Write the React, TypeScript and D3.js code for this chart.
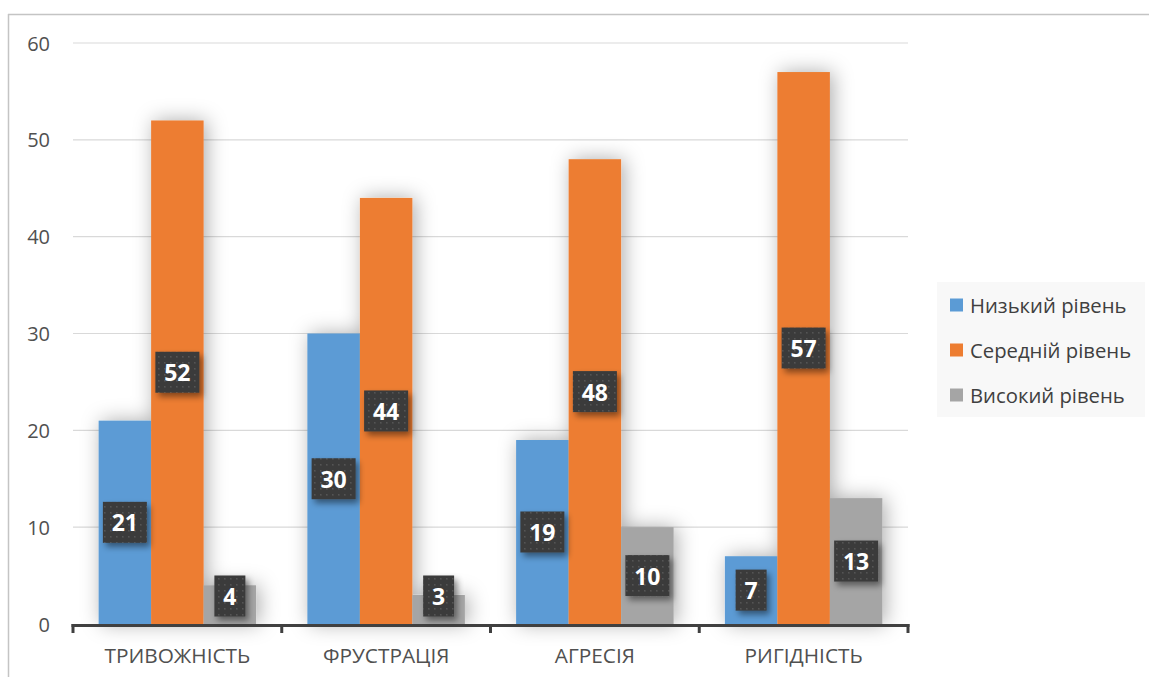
import React from "react";
import * as d3 from "d3";

const categories = ["ТРИВОЖНІСТЬ", "ФРУСТРАЦІЯ", "АГРЕСІЯ", "РИГІДНІСТЬ"];
const seriesNames = ["Низький рівень", "Середній рівень", "Високий рівень"];
const seriesColors = ["#5b9bd5", "#ed7d31", "#a5a5a5"];
const lowValues = [21, 30, 19, 7];
const midValues = [52, 44, 48, 57];
const highValues = [4, 3, 10, 13];
const yTicks = [0, 10, 20, 30, 40, 50, 60];

const seriesValues = [lowValues, midValues, highValues];

const W = 1149;
const H = 677;
const left = 73;
const right = 908;
const top = 43;
const bottom = 624;
const font = "'Open Sans', 'Noto Sans', sans-serif";

export default function App() {
  const x = d3.scaleBand<string>().domain(categories).range([left, right]).paddingInner(0).paddingOuter(0);
  const inner = d3
    .scaleBand<string>()
    .domain(seriesNames)
    .range([0, x.bandwidth()])
    .paddingInner(0)
    .paddingOuter(0.488);
  const y = d3.scaleLinear().domain([0, 60]).range([bottom, top]);

  const bars: { key: string; x: number; y: number; w: number; h: number; color: string; v: number }[] = [];
  seriesValues.forEach((vals, si) => {
    vals.forEach((v, ci) => {
      const bx = (x(categories[ci]) as number) + (inner(seriesNames[si]) as number);
      bars.push({
        key: `${si}-${ci}`,
        x: bx,
        y: y(v),
        w: inner.bandwidth(),
        h: y(0) - y(v),
        color: seriesColors[si],
        v,
      });
    });
  });

  const boundaries = [...categories.map((c) => x(c) as number), right];

  return (
    <svg
      width={W}
      height={H}
      style={{ position: "absolute", left: 0, top: 0, background: "#fff" }}
      fontFamily={font}
    >
      <defs>
        <filter id="barShadow" x="-60%" y="-30%" width="220%" height="160%">
          <feDropShadow dx="3" dy="0" stdDeviation="10" floodColor="#000" floodOpacity="0.33" />
        </filter>
        <filter id="labelShadow" x="-40%" y="-40%" width="180%" height="180%">
          <feDropShadow dx="3" dy="4" stdDeviation="3" floodColor="#000" floodOpacity="0.45" />
        </filter>
        <pattern id="dots" width="6" height="6" patternUnits="userSpaceOnUse">
          <rect width="6" height="6" fill="#3a3a3a" />
          <rect x="2" y="2" width="1.6" height="1.6" fill="#545454" />
        </pattern>
      </defs>

      {/* chart frame */}
      <line x1={8} y1={14.5} x2={W} y2={14.5} stroke="#c4c4c4" strokeWidth={1.5} />
      <line x1={8.5} y1={14} x2={8.5} y2={H} stroke="#c4c4c4" strokeWidth={1.5} />

      {/* gridlines */}
      {yTicks.map((t) =>
        t === 0 ? null : (
          <line key={t} x1={left} x2={right} y1={y(t)} y2={y(t)} stroke="#d9d9d9" strokeWidth={1.2} />
        )
      )}

      {/* y tick labels */}
      {yTicks.map((t) => (
        <text
          key={t}
          x={50}
          y={y(t)}
          textAnchor="end"
          dominantBaseline="central"
          fontSize={20}
          fill="#505050"
        >
          {t}
        </text>
      ))}

      {/* bars */}
      <g filter="url(#barShadow)">
        {bars.map((b) => (
          <rect key={b.key} x={b.x} y={b.y} width={b.w} height={b.h} fill={b.color} />
        ))}
      </g>

      {/* category axis */}
      <line x1={left - 1.5} x2={right + 1.5} y1={bottom + 1.5} y2={bottom + 1.5} stroke="#404040" strokeWidth={3.2} />
      {boundaries.map((bx, i) => (
        <line key={i} x1={bx} x2={bx} y1={bottom} y2={bottom + 9} stroke="#404040" strokeWidth={3} />
      ))}
      {categories.map((c) => (
        <text
          key={c}
          x={(x(c) as number) + x.bandwidth() / 2}
          y={655}
          textAnchor="middle"
          dominantBaseline="central"
          fontSize={20.8}
          fill="#505050"
        >
          {c}
        </text>
      ))}

      {/* value labels */}
      {bars.map((b) => {
        const label = String(b.v);
        const bw = label.length > 1 ? 44 : 31;
        const bh = 41;
        const cx = b.x + b.w / 2;
        const cy = Math.min(y(b.v / 2), bottom - 28);
        return (
          <g key={"l" + b.key}>
            <rect
              x={cx - bw / 2}
              y={cy - bh / 2}
              width={bw}
              height={bh}
              fill="url(#dots)"
              filter="url(#labelShadow)"
            />
            <text
              x={cx}
              y={cy}
              textAnchor="middle"
              dominantBaseline="central"
              fontSize={23}
              fontWeight={700}
              fill="#ffffff"
            >
              {label}
            </text>
          </g>
        );
      })}

      {/* legend */}
      <rect x={937} y={282} width={208} height={135} fill="#f8f8f8" />
      {seriesNames.map((s, i) => (
        <g key={s} transform={`translate(950, ${305 + i * 45})`}>
          <rect x={0} y={-6.5} width={13} height={13} fill={seriesColors[i]} />
          <text x={20} y={0} dominantBaseline="central" fontSize={20.3} fill="#404040">
            {s}
          </text>
        </g>
      ))}
    </svg>
  );
}
